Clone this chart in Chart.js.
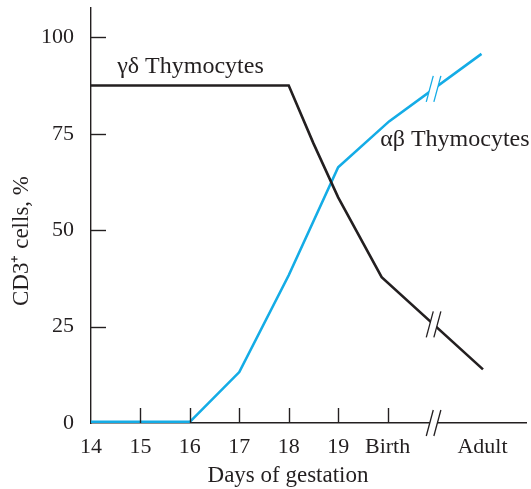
<!DOCTYPE html>
<html>
<head>
<meta charset="utf-8">
<script src="https://cdn.jsdelivr.net/npm/chart.js@4.4.1/dist/chart.umd.min.js"></script>
<style>
    html, body { margin: 0; padding: 0; background: #fff; }
    #wrap { width: 531px; height: 489px; }
</style>
</head>
<body>
<div id="wrap"><canvas id="chart" width="531" height="489"></canvas></div>
<script>

// =====================================
// DATA
// =====================================

const tickValues = [14, 15, 16, 17, 18, 19, 20, 21.92];
const tickLabels = ["14", "15", "16", "17", "18", "19", "Birth", "Adult"];
const yTicks = [0, 25, 50, 75, 100];

// gamma-delta thymocytes (black)
const gdDays = [14, 18, 18.5, 19, 19.88, 21.93];
const gdValues = [87.5, 87.5, 72.5, 58.5, 37.8, 13.9];

// alpha-beta thymocytes (blue)
const abDays = [14, 15, 16, 17, 18, 19, 20.03, 21.9];
const abValues = [0.3, 0.3, 0.3, 13.2, 38.3, 66.3, 78.2, 95.7];

// axis / line break between Birth and Adult
const breakDay = 20.93;

// =====================================
// STYLE
// =====================================

const INK = "#231f20";
const BLUE = "#14ace6";
const FONT = "'Liberation Serif', 'Times New Roman', serif";

// =====================================
// HELPERS
// =====================================

function toPoints(days, values) {
    return days.map((d, i) => ({ x: d, y: values[i] }));
}

function valueAt(days, values, d) {
    for (let i = 0; i < days.length - 1; i++) {
        if (d >= days[i] && d <= days[i + 1]) {
            const t = (d - days[i]) / (days[i + 1] - days[i]);
            return values[i] + t * (values[i + 1] - values[i]);
        }
    }
    return values[values.length - 1];
}

// two slanted strokes with a white gap between them
function drawBreak(ctx, cx, cy, color) {
    const hx = 3.5, hy = 13, gap = 3.8;
    ctx.save();
    ctx.fillStyle = "#fff";
    ctx.beginPath();
    ctx.moveTo(cx - gap - hx, cy + hy);
    ctx.lineTo(cx + gap - hx, cy + hy);
    ctx.lineTo(cx + gap + hx, cy - hy);
    ctx.lineTo(cx - gap + hx, cy - hy);
    ctx.closePath();
    ctx.fill();
    ctx.strokeStyle = color;
    ctx.lineWidth = 1.3;
    [-gap, gap].forEach(off => {
        ctx.beginPath();
        ctx.moveTo(cx + off - hx, cy + hy);
        ctx.lineTo(cx + off + hx, cy - hy);
        ctx.stroke();
    });
    ctx.restore();
}

// =====================================
// PLUGIN : inward ticks, breaks, labels
// =====================================

const decor = {
    id: "decor",
    afterDatasetsDraw(chart) {
        const ctx = chart.ctx;
        const x = chart.scales.x;
        const y = chart.scales.y;
        const area = chart.chartArea;

        // inward tick marks
        ctx.save();
        ctx.strokeStyle = INK;
        ctx.lineWidth = 1.4;
        yTicks.slice(1).forEach(v => {
            const py = Math.round(y.getPixelForValue(v)) + 0.5;
            ctx.beginPath();
            ctx.moveTo(area.left, py);
            ctx.lineTo(area.left + 15, py);
            ctx.stroke();
        });
        tickValues.slice(1, 7).forEach(v => {
            const px = Math.round(x.getPixelForValue(v)) + 0.5;
            ctx.beginPath();
            ctx.moveTo(px, area.bottom);
            ctx.lineTo(px, area.bottom - 15);
            ctx.stroke();
        });
        ctx.restore();

        // breaks
        const bx = x.getPixelForValue(breakDay);
        drawBreak(ctx, bx, area.bottom, INK);
        drawBreak(ctx, bx, y.getPixelForValue(valueAt(gdDays, gdValues, breakDay)), INK);
        drawBreak(ctx, bx, y.getPixelForValue(valueAt(abDays, abValues, breakDay)), BLUE);

        // texts
        ctx.save();
        ctx.fillStyle = INK;
        ctx.textBaseline = "alphabetic";

        ctx.font = "24px " + FONT;
        ctx.textAlign = "left";
        ctx.fillText("γδ Thymocytes", x.getPixelForValue(14.53), y.getPixelForValue(90.7));
        ctx.fillText("αβ Thymocytes", x.getPixelForValue(19.85), y.getPixelForValue(71.8));

        ctx.font = "23px " + FONT;
        ctx.textAlign = "center";
        ctx.fillText("Days of gestation", 288, 482);

        ctx.translate(28, 241);
        ctx.rotate(-Math.PI / 2);
        ctx.fillText("CD3⁺ cells, %", 0, 0);
        ctx.restore();
    }
};

// =====================================
// CHART
// =====================================

new Chart(document.getElementById("chart"), {
    type: "scatter",
    data: {
        datasets: [
            {
                label: "γδ Thymocytes",
                data: toPoints(gdDays, gdValues),
                showLine: true,
                borderColor: INK,
                borderWidth: 2.6,
                pointRadius: 0,
                tension: 0
            },
            {
                label: "αβ Thymocytes",
                data: toPoints(abDays, abValues),
                showLine: true,
                borderColor: BLUE,
                borderWidth: 2.6,
                pointRadius: 0,
                tension: 0
            }
        ]
    },
    options: {
        responsive: false,
        animation: false,
        devicePixelRatio: 1,
        layout: {
            padding: { left: 0, top: 8, right: 5, bottom: 0 }
        },
        plugins: {
            legend: { display: false },
            tooltip: { enabled: false }
        },
        scales: {
            x: {
                type: "linear",
                min: 14,
                max: 22.8,
                afterBuildTicks: scale => {
                    scale.ticks = tickValues.map(v => ({ value: v }));
                },
                afterFit: scale => {
                    scale.height = 66;
                    scale.paddingLeft = 0;
                    scale.paddingRight = 0;
                },
                grid: { display: false, drawTicks: false },
                border: { display: true, color: INK, width: 1.4 },
                ticks: {
                    autoSkip: false,
                    maxRotation: 0,
                    padding: 11,
                    color: INK,
                    font: { family: FONT, size: 22 },
                    callback: v => {
                        const i = tickValues.indexOf(v);
                        return i >= 0 ? tickLabels[i] : "";
                    }
                }
            },
            y: {
                min: 0,
                max: 107.6,
                afterBuildTicks: scale => {
                    scale.ticks = yTicks.map(v => ({ value: v }));
                },
                afterFit: scale => {
                    scale.width = 91;
                    scale.paddingTop = 0;
                    scale.paddingBottom = 0;
                },
                grid: { display: false, drawTicks: false },
                border: { display: true, color: INK, width: 1.4 },
                ticks: {
                    padding: 17,
                    color: INK,
                    font: { family: FONT, size: 22 }
                }
            }
        }
    },
    plugins: [decor]
});

</script>
</body>
</html>
